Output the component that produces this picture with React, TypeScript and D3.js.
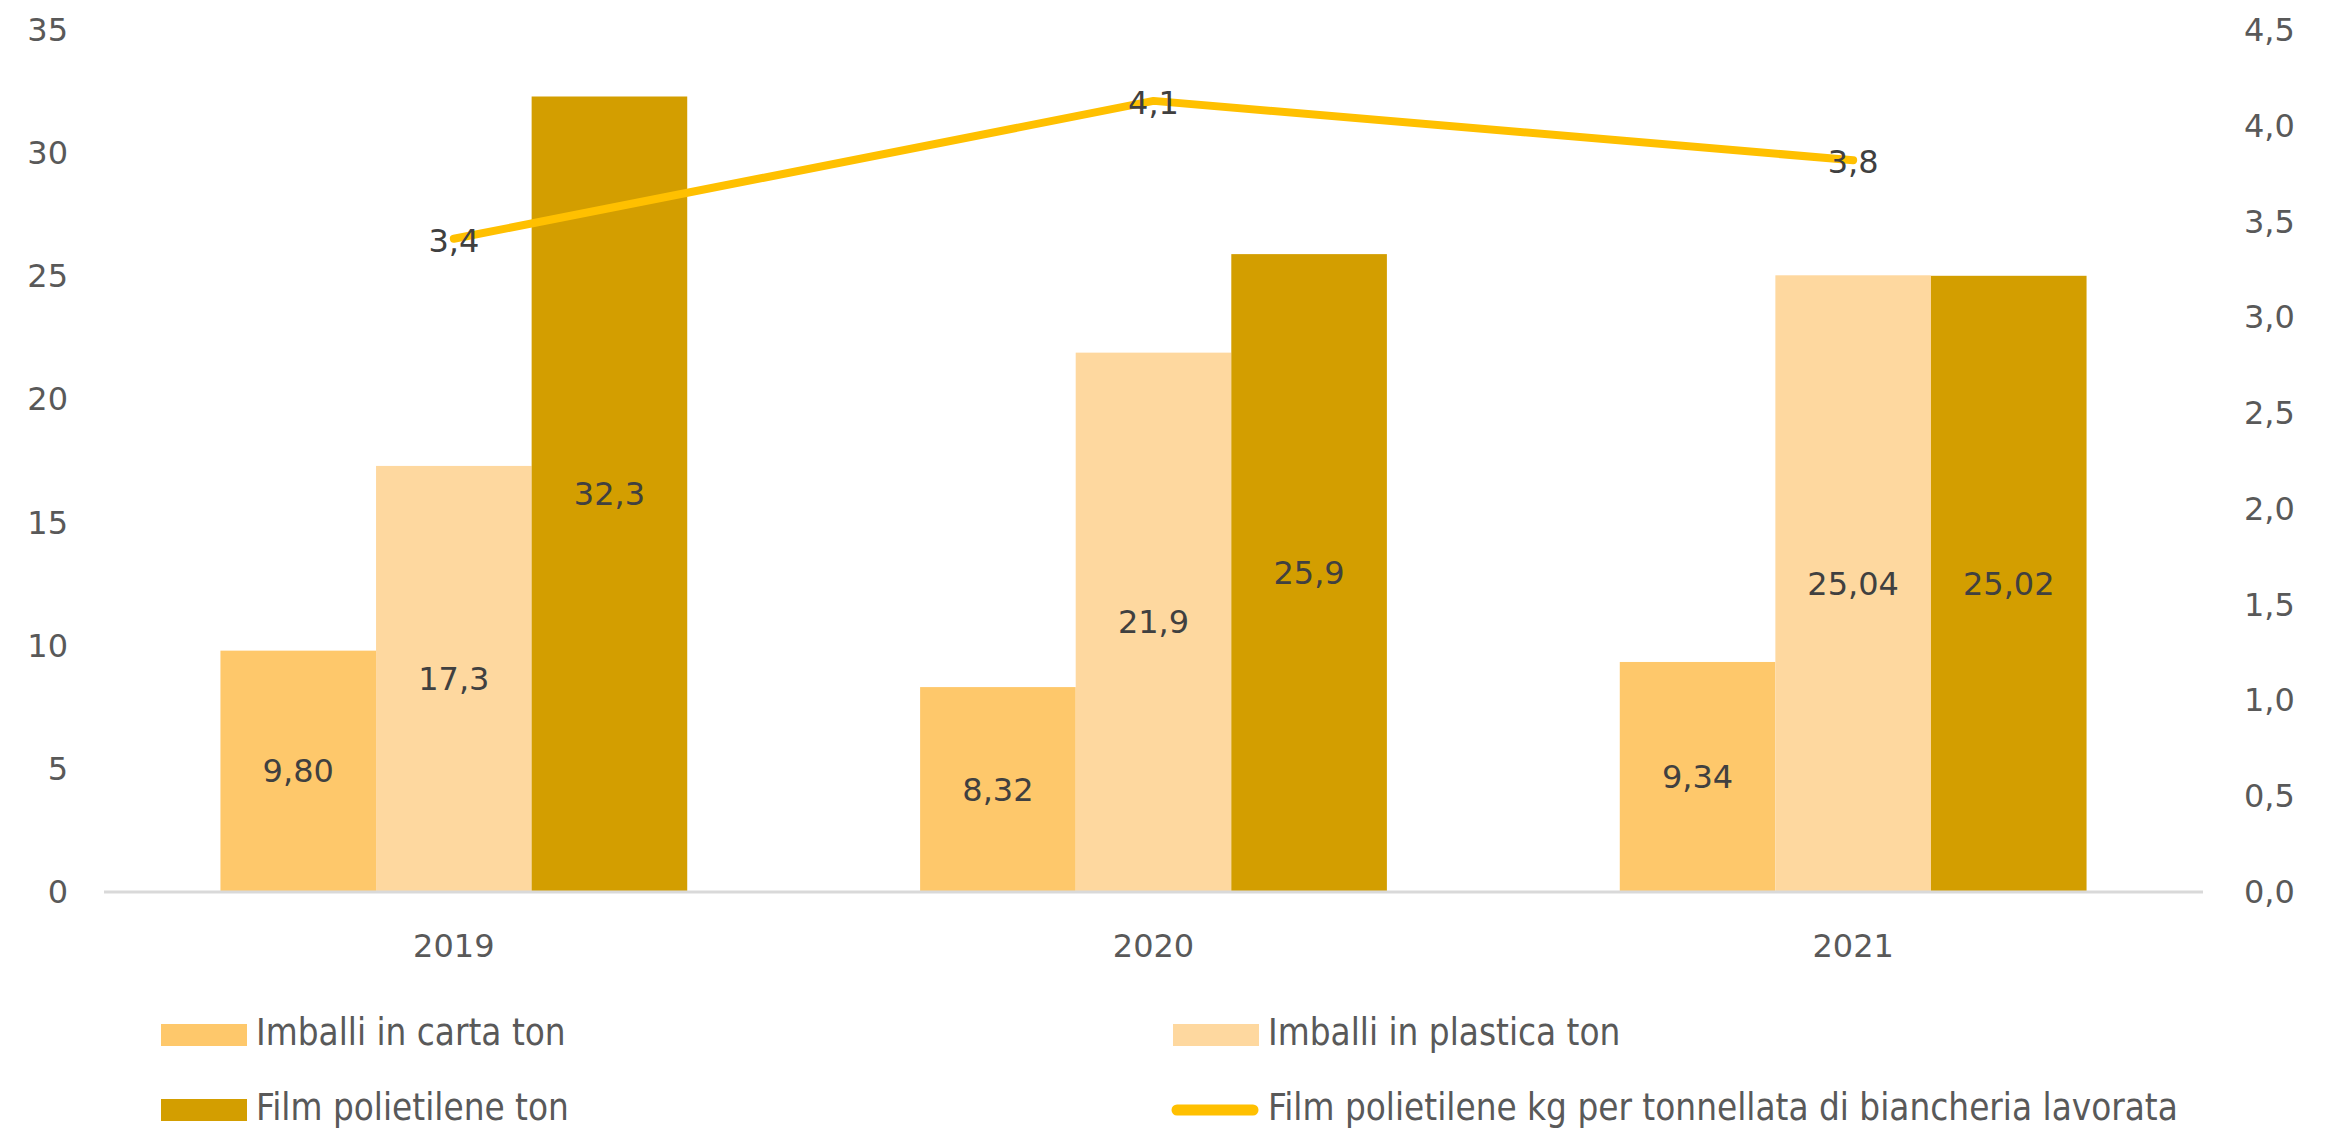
import React from "react";
import * as d3 from "d3";

const years = ["2019", "2020", "2021"];
const carta = [9.8, 8.32, 9.34];
const plastica = [17.3, 21.9, 25.04];
const film = [32.3, 25.9, 25.02];
const filmKg = [3.41, 4.13, 3.82];
const cartaDec = [2, 2, 2];
const plasticaDec = [1, 1, 2];
const filmDec = [1, 1, 2];
const kgDec = [1, 1, 1];
const leftTicks = [0, 5, 10, 15, 20, 25, 30, 35];
const rightTicks = [0, 0.5, 1, 1.5, 2, 2.5, 3, 3.5, 4, 4.5];
const seriesNames = [
  "Imballi in carta ton",
  "Imballi in plastica ton",
  "Film polietilene ton",
  "Film polietilene kg per tonnellata di biancheria lavorata",
];

const W = 2328;
const H = 1128;
const colors = ["#FEC86B", "#FED89F", "#D39E00", "#FFC000"];

const fmt = (v: number, d: number) => v.toFixed(d).replace(".", ",");

export default function App() {
  const left = 104, right = 2203, top = 30, bottom = 892;
  const x = d3.scaleBand<string>().domain(years).range([left, right]).paddingInner(0).paddingOuter(0);
  const groupW = x.bandwidth() * (467 / 700);
  const g0 = (x.bandwidth() - groupW) / 2;
  const inner = d3.scaleBand<number>().domain([0, 1, 2]).range([g0, g0 + groupW]);
  const yL = d3.scaleLinear().domain([0, 35]).range([bottom, top]);
  const yR = d3.scaleLinear().domain([0, 4.5]).range([bottom, top]);
  const series = [carta, plastica, film];
  const decs = [cartaDec, plasticaDec, filmDec];
  const line = d3
    .line<number>()
    .x((_, i) => (x(years[i]) as number) + x.bandwidth() / 2)
    .y((d) => yR(d));
  const font = "'DejaVu Sans', Verdana, sans-serif";
  const legendFont = "'Liberation Sans Narrow', 'DejaVu Sans Condensed', 'Arial Narrow', sans-serif";
  return (
    <svg width={W} height={H} style={{ display: "block", position: "absolute", left: 0, top: 0 }}>
      <rect x={0} y={0} width={W} height={H} fill="#fff" />
      {series.map((s, si) =>
        s.map((v, i) => {
          const bx = (x(years[i]) as number) + (inner(si) as number);
          return (
            <rect key={`b${si}-${i}`} x={bx} y={yL(v)} width={inner.bandwidth()} height={bottom - yL(v)} fill={colors[si]} />
          );
        })
      )}
      <line x1={left} x2={right} y1={bottom} y2={bottom} stroke="#D9D9D9" strokeWidth={3} />
      {series.map((s, si) =>
        s.map((v, i) => {
          const bx = (x(years[i]) as number) + (inner(si) as number) + inner.bandwidth() / 2;
          return (
            <text key={`l${si}-${i}`} x={bx} y={(yL(v) + bottom) / 2} textAnchor="middle" dominantBaseline="central" fontFamily={font} fontSize={32} fill="#404040">
              {fmt(v, decs[si][i])}
            </text>
          );
        })
      )}
      <path d={line(filmKg) || ""} fill="none" stroke={colors[3]} strokeWidth={8} strokeLinecap="round" strokeLinejoin="round" />
      {filmKg.map((v, i) => (
        <text key={`k${i}`} x={(x(years[i]) as number) + x.bandwidth() / 2} y={yR(v) + 2} textAnchor="middle" dominantBaseline="central" fontFamily={font} fontSize={32} fill="#404040">
          {fmt(v, kgDec[i])}
        </text>
      ))}
      {leftTicks.map((t) => (
        <text key={`lt${t}`} x={68} y={yL(t)} textAnchor="end" dominantBaseline="central" fontFamily={font} fontSize={32} fill="#595959">
          {t}
        </text>
      ))}
      {rightTicks.map((t) => (
        <text key={`rt${t}`} x={2244} y={yR(t)} textAnchor="start" dominantBaseline="central" fontFamily={font} fontSize={32} fill="#595959">
          {fmt(t, 1)}
        </text>
      ))}
      {years.map((yv) => (
        <text key={`c${yv}`} x={(x(yv) as number) + x.bandwidth() / 2} y={946} textAnchor="middle" dominantBaseline="central" fontFamily={font} fontSize={32} fill="#595959">
          {yv}
        </text>
      ))}
      {seriesNames.map((n, i) => {
        const col = i % 2;
        const row = Math.floor(i / 2);
        const sx = col === 0 ? 161 : 1173;
        const cy = row === 0 ? 1035 : 1110;
        const tx = col === 0 ? 256 : 1268;
        return (
          <g key={`lg${i}`}>
            {i < 3 ? (
              <rect x={sx} y={cy - 11} width={86} height={22} fill={colors[i]} />
            ) : (
              <line x1={sx + 4} x2={sx + 80} y1={cy} y2={cy} stroke={colors[i]} strokeWidth={11} strokeLinecap="round" />
            )}
            <text x={tx} y={cy + 10} fontFamily={legendFont} fontSize={36.5} fill="#595959">
              {n}
            </text>
          </g>
        );
      })}
    </svg>
  );
}
